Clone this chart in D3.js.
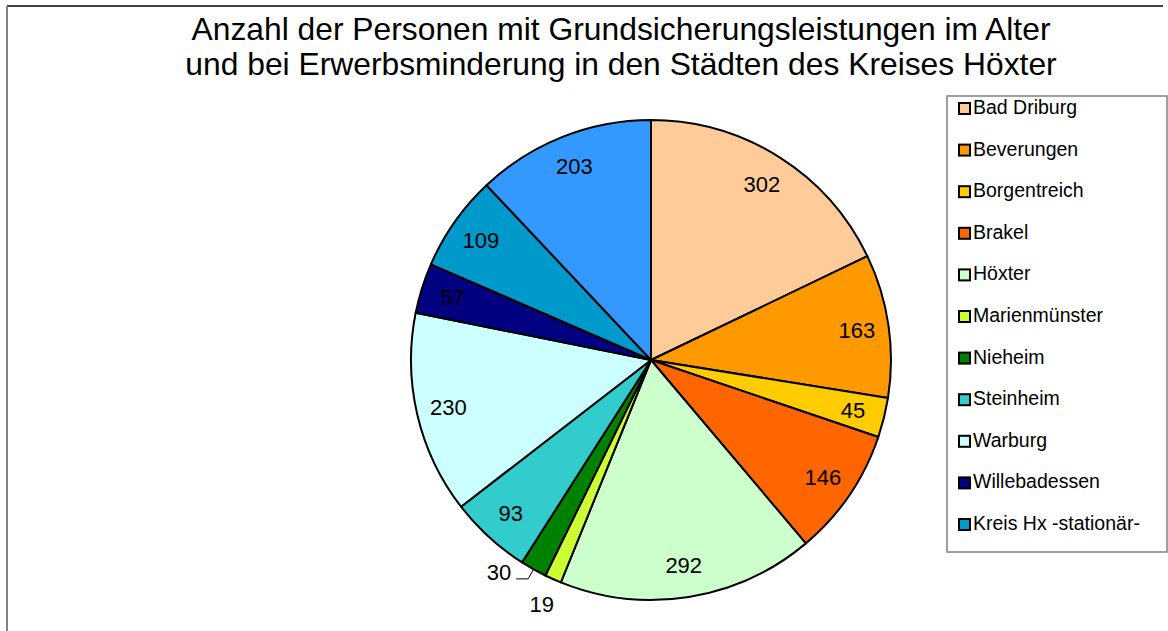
<!DOCTYPE html>
<html>
<head>
<meta charset="utf-8">
<script src="https://cdn.jsdelivr.net/npm/d3@7"></script>
<style>
  body { margin: 0; background: #fff; }
  svg { display: block; font-family: "Liberation Sans", Arial, sans-serif; }
</style>
</head>
<body>
<svg id="chart"></svg>
<script>
// Daten
const titleLines = [
  "Anzahl der Personen mit Grundsicherungsleistungen im Alter",
  "und bei Erwerbsminderung in den Städten des Kreises Höxter"
];
const cities = ["Bad Driburg", "Beverungen", "Borgentreich", "Brakel", "Höxter", "Marienmünster",
  "Nieheim", "Steinheim", "Warburg", "Willebadessen", "Kreis Hx -stationär-", "Kreis Hx -ambulant-"];
const values = [302, 163, 45, 146, 292, 19, 30, 93, 230, 57, 109, 203];
const colors = ["#FFCC99", "#FF9900", "#FFCC00", "#FF6600", "#CCFFCC", "#CCFF33",
  "#008000", "#33CCCC", "#CCFFFF", "#000080", "#0099CC", "#3399FF"];

const width = 1168, height = 631;
const cx = 651, cy = 360, radius = 240;

const svg = d3.select("#chart").attr("width", width).attr("height", height);

// Rahmen (nur oben und links sichtbar)
svg.append("line").attr("x1", 7).attr("y1", 6).attr("x2", 1163).attr("y2", 6)
  .attr("stroke", "#000").attr("stroke-width", 1.5);
svg.append("line").attr("x1", 7).attr("y1", 6).attr("x2", 7).attr("y2", height)
  .attr("stroke", "#808080").attr("stroke-width", 2);

// Titel
svg.append("g").selectAll("text")
  .data(titleLines)
  .join("text")
  .attr("x", 621)
  .attr("y", (d, i) => 40 + i * 35)
  .attr("text-anchor", "middle")
  .attr("font-size", 31.8)
  .text(d => d);

// Kreis
const pie = d3.pie().sort(null).value(d => d)(values);
const arc = d3.arc().innerRadius(0).outerRadius(radius);

const g = svg.append("g").attr("transform", `translate(${cx},${cy})`);

g.selectAll("path")
  .data(pie)
  .join("path")
  .attr("d", arc)
  .attr("fill", (d, i) => colors[i])
  .attr("stroke", "#000")
  .attr("stroke-width", 2)
  .attr("stroke-linejoin", "round");

// Beschriftungen
const total = d3.sum(values);
const fs = 22;
const inner = d3.arc().innerRadius(208).outerRadius(208);
const outer = d3.arc().innerRadius(268).outerRadius(268);
const knee = d3.arc().innerRadius(251).outerRadius(251);
const edge = d3.arc().innerRadius(radius).outerRadius(radius);
const placed = [];

function box(x, y, txt) {
  const w = txt.length * 0.556 * fs, h = 0.75 * fs;
  return { x0: x - w / 2, x1: x + w / 2, y0: y - h / 2, y1: y + h / 2 };
}
function hits(b) {
  return placed.some(p => b.x0 < p.x1 && b.x1 > p.x0 && b.y0 < p.y1 && b.y1 > p.y0);
}

const labels = g.append("g").attr("font-size", fs);

pie.forEach((d, i) => {
  const txt = String(d.value);
  if (d.value / total > 0.02) {
    const [x, y] = inner.centroid(d);
    labels.append("text").attr("x", x).attr("y", y).attr("dy", "0.35em")
      .attr("text-anchor", "middle").text(txt);
    return;
  }
  let [x, y] = outer.centroid(d);
  const b = box(x, y, txt);
  if (!hits(b)) {
    placed.push(b);
    labels.append("text").attr("x", x).attr("y", y).attr("dy", "0.35em")
      .attr("text-anchor", "middle").text(txt);
  } else {
    const [ex, ey] = edge.centroid(d);
    const [kx, ky] = knee.centroid(d);
    const lx = kx - 12;
    labels.append("path")
      .attr("d", `M${ex},${ey}L${kx},${ky}L${lx},${ky}`)
      .attr("fill", "none").attr("stroke", "#000").attr("stroke-width", 1);
    labels.append("text").attr("x", lx - 5).attr("y", ky + 1)
      .attr("text-anchor", "end").text(txt);
  }
});

// Legende
const lg = { x: 947, y: 96, w: 220, h: 456, top: 114, step: 41.6 };
svg.append("clipPath").attr("id", "legclip")
  .append("rect").attr("x", lg.x).attr("y", lg.y).attr("width", lg.w).attr("height", lg.h);
svg.append("rect").attr("x", lg.x).attr("y", lg.y).attr("width", lg.w).attr("height", lg.h)
  .attr("fill", "#fff").attr("stroke", "#808080").attr("stroke-width", 1.5);

const items = svg.append("g").attr("clip-path", "url(#legclip)")
  .selectAll("g")
  .data(cities)
  .join("g")
  .attr("transform", (d, i) => `translate(${lg.x + 12},${lg.top + i * lg.step})`);

items.append("rect")
  .attr("x", 0).attr("y", -11).attr("width", 11).attr("height", 11)
  .attr("fill", (d, i) => colors[i])
  .attr("stroke", "#000").attr("stroke-width", 2);
items.append("text")
  .attr("x", 14).attr("y", 0)
  .attr("font-size", 19.5)
  .text(d => d);
</script>
</body>
</html>
